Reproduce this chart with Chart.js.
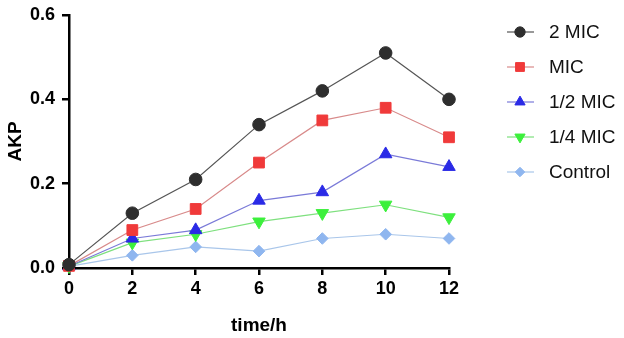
<!DOCTYPE html>
<html>
<head>
<meta charset="utf-8">
<script src="https://cdn.jsdelivr.net/npm/chart.js@4.4.0/dist/chart.umd.min.js"></script>
<style>
  html,body{margin:0;padding:0;background:#fff}
  #wrap{width:624px;height:338px}
</style>
</head>
<body>
<div id="wrap"><canvas id="c"></canvas></div>
<script>
// time points (h)
const times=[0,2,4,6,8,10,12]
const seriesNames=["2 MIC","MIC","1/2 MIC","1/4 MIC","Control"]
const mic2=[0.008,0.13,0.21,0.34,0.42,0.51,0.40]
const mic1=[0.005,0.09,0.14,0.25,0.35,0.38,0.31]
const micHalf=[0.004,0.07,0.09,0.16,0.18,0.27,0.24]
const micQuarter=[0.004,0.06,0.08,0.11,0.13,0.15,0.12]
const control=[0.004,0.03,0.05,0.04,0.07,0.08,0.07]
const yTicks=[0,0.2,0.4,0.6]

const FONT="'Liberation Sans', Arial, sans-serif"

function series(label,values,line,fill,style,radius,rotation=0){
  return {
    label,
    data:values.map((v,i)=>({x:times[i],y:v})),
    borderColor:line,
    borderWidth:1.2,
    pointStyle:style,
    pointRadius:radius,
    pointHoverRadius:radius,
    pointRotation:rotation,
    pointBackgroundColor:fill,
    pointBorderColor:fill,
    pointBorderWidth:1,
    clip:false
  }
}

const datasets=[
  series(seriesNames[0],mic2,"#555555","#2e2e2e","circle",6.3),
  series(seriesNames[1],mic1,"#d88a8a","#f03a3a","rect",7.6),
  series(seriesNames[2],micHalf,"#7a7ad8","#2a2ae6","triangle",7.2),
  series(seriesNames[3],micQuarter,"#7ee07e","#3cf03c","triangle",7.2,180),
  series(seriesNames[4],control,"#a9c6ea","#8fb6ef","rectRot",5.8)
]

// legend with line + marker, drawn to the right of the plot
const sideLegend={
  id:"sideLegend",
  afterDraw(chart){
    const ctx=chart.ctx
    const rows=[32,67,102,137,172]
    chart.data.datasets.forEach((ds,i)=>{
      const y=rows[i]
      ctx.save()
      ctx.strokeStyle=ds.borderColor
      ctx.lineWidth=1.2
      ctx.beginPath()
      ctx.moveTo(507,y)
      ctx.lineTo(534,y)
      ctx.stroke()
      ctx.fillStyle=ds.pointBackgroundColor
      ctx.strokeStyle=ds.pointBorderColor
      ctx.lineWidth=1
      Chart.helpers.drawPoint(ctx,{pointStyle:ds.pointStyle,radius:ds.pointRadius*0.82,rotation:ds.pointRotation,borderWidth:1},520,y)
      ctx.fillStyle="#111"
      ctx.font="19px "+FONT
      ctx.textBaseline="middle"
      ctx.fillText(ds.label,549,y+1)
      ctx.restore()
    })
  }
}

new Chart(document.getElementById("c"),{
  type:"line",
  data:{datasets},
  options:{
    responsive:true,
    maintainAspectRatio:false,
    animation:false,
    layout:{padding:{top:15,right:175,left:0,bottom:0}},
    plugins:{legend:{display:false},tooltip:{enabled:false}},
    scales:{
      x:{
        type:"linear",
        min:0,max:12,
        afterFit:s=>{s.height=70},
        border:{color:"#000",width:2.5},
        grid:{drawOnChartArea:false,color:"#000",lineWidth:2.5,tickLength:7},
        ticks:{stepSize:2,color:"#000",padding:3,font:{family:FONT,size:18,weight:"bold"}},
        title:{display:true,text:"time/h",color:"#000",padding:{top:4,bottom:1},font:{family:FONT,size:19,weight:"bold"}}
      },
      y:{
        min:0,max:0.6,
        afterFit:s=>{s.width=69;s.paddingTop=0;s.paddingBottom=0},
        afterBuildTicks:s=>{s.ticks=yTicks.map(v=>({value:v}))},
        border:{color:"#000",width:2.5},
        grid:{drawOnChartArea:false,color:"#000",lineWidth:2.5,tickLength:7},
        ticks:{color:"#000",padding:7,font:{family:FONT,size:18,weight:"bold"},callback:v=>v.toFixed(1)},
        title:{display:true,text:"AKP",color:"#000",padding:{bottom:0},font:{family:FONT,size:19,weight:"bold"}}
      }
    }
  },
  plugins:[sideLegend]
})
</script>
</body>
</html>
